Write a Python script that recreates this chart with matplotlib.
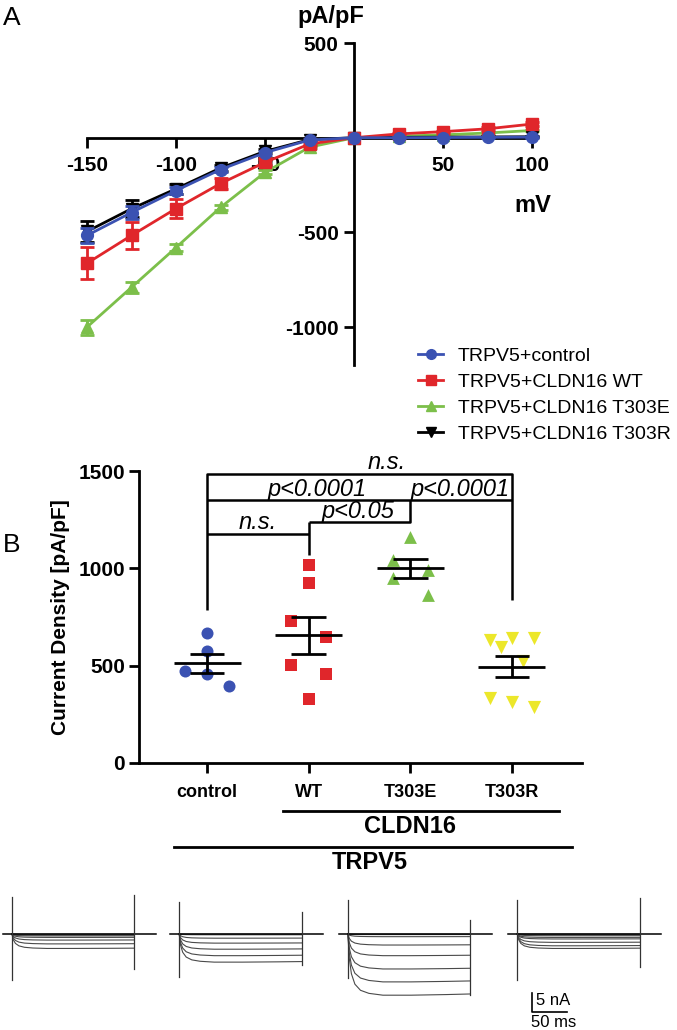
import numpy as np
import matplotlib.pyplot as plt
from matplotlib.lines import Line2D

plt.rcParams['font.family'] = ['Liberation Sans', 'DejaVu Sans']
plt.rcParams['axes.unicode_minus'] = False

# ---- Panel A: current-voltage curves
mv = [-150, -125, -100, -75, -50, -25, 0, 25, 50, 75, 100]
iv_control = [-516, -395, -279, -168, -79, -12, 0, 0, 1, 2, 3]
iv_wt = [-663, -516, -374, -242, -130, -33, 0, 20, 32, 47, 72]
iv_t303e = [-1000, -790, -580, -368, -183, -50, 0, 8, 15, 25, 38]
iv_t303r = [-495, -375, -270, -160, -72, -10, 0, 2, 3, 4, 5]
err_control = [40, 35, 20, 15, 10, 5, 0, 3, 3, 3, 3]
err_wt = [85, 70, 50, 30, 15, 8, 0, 5, 5, 8, 10]
err_t303e = [40, 30, 20, 15, 10, 5, 0, 3, 3, 5, 5]
err_t303r = [55, 45, 25, 15, 10, 5, 0, 3, 3, 3, 3]
iv_labels = ['TRPV5+control', 'TRPV5+CLDN16 WT', 'TRPV5+CLDN16 T303E', 'TRPV5+CLDN16 T303R']

# ---- Panel B: current density scatter
groups = ['control', 'WT', 'T303E', 'T303R']
cd_control = [667, 574, 472, 456, 395]
cd_wt = [1015, 923, 728, 646, 502, 456, 328]
cd_t303e = [1159, 1041, 990, 949, 862]
cd_t303r = [631, 595, 641, 641, 523, 333, 313, 287]
jit_control = [0, 0, -0.22, 0, 0.22]
jit_wt = [0, 0, -0.17, 0.17, -0.17, 0.17, 0]
jit_t303e = [0, -0.17, 0.17, -0.17, 0.17]
jit_t303r = [-0.22, -0.11, 0, 0.22, 0.11, -0.22, 0, 0.22]

# ---- Example traces (nA steady-state amplitudes per sweep)
amp_control = [0.05, 0.15, 0.3, 0.5, 0.9, 1.6, 2.6, 3.8]
amp_wt = [0.05, 0.2, 1.1, 2.4, 4.0, 5.7, 7.4]
amp_t303e = [0.05, 0.15, 0.7, 2.9, 5.7, 9.2, 12.6, 16.1]
amp_t303r = [0.05, 0.1, 0.2, 0.45, 0.9, 1.3, 2.2, 3.1, 3.8]
trace_t = [0, 2, 5, 10, 18, 30, 50, 90, 140, 175]
trace_shape = [0, 0.4, 0.65, 0.82, 0.92, 0.97, 1.0, 1.0, 0.99, 0.98]

blue = '#3b52b2'
red = '#e0262b'
green = '#7cbf4a'
yellow = '#ece72a'

fig = plt.figure(figsize=(6.77, 10.30), dpi=100)

# ================= Panel A =================
axA = fig.add_axes([87 / 677, 1 - 365 / 1030, 445 / 677, 322 / 1030])
series = [
    (iv_t303e, err_t303e, green, '^', 9, 2),
    (iv_t303r, err_t303r, 'black', 'v', 8, 3),
    (iv_wt, err_wt, red, 's', 8, 4),
    (iv_control, err_control, blue, 'o', 8.5, 5),
]
for vals, errs, col, mk, ms, z in series:
    axA.errorbar(mv, vals, yerr=errs, color=col, marker=mk, markersize=ms,
                 lw=2, elinewidth=2, capsize=5, capthick=2, zorder=z, clip_on=False)

axA.set_xlim(-150, 100)
axA.set_ylim(-1200, 500)
axA.spines['left'].set_position(('data', 0))
axA.spines['bottom'].set_position(('data', 0))
axA.spines['right'].set_visible(False)
axA.spines['top'].set_visible(False)
for s in ['left', 'bottom']:
    axA.spines[s].set_linewidth(2)
axA.set_xticks([-150, -100, -50, 50, 100])
axA.set_yticks([500, -500, -1000])
axA.tick_params(axis='both', direction='out', length=7, width=2, labelsize=15)
axA.tick_params(axis='x', pad=6)
axA.tick_params(axis='y', pad=4)
for lab in axA.get_xticklabels() + axA.get_yticklabels():
    lab.set_fontweight('bold')
axA.text(-13, 640, 'pA/pF', fontsize=17, fontweight='bold', ha='center', va='center')
axA.text(100.5, -358, 'mV', fontsize=17, fontweight='bold', ha='center', va='center')

handles = [
    Line2D([], [], color=blue, marker='o', markersize=7, lw=2),
    Line2D([], [], color=red, marker='s', markersize=6.5, lw=2),
    Line2D([], [], color=green, marker='^', markersize=7, lw=2),
    Line2D([], [], color='black', marker='v', markersize=7, lw=2),
]
fig.legend(handles, iv_labels, loc='upper left', bbox_to_anchor=(418 / 677, 1 - 347 / 1030),
           frameon=False, fontsize=14, handlelength=1.3, handletextpad=0.75,
           labelspacing=0.43, borderpad=0, borderaxespad=0)

fig.text(12 / 677, 1 - 18 / 1030, 'A', fontsize=19, ha='center', va='center')
fig.text(12 / 677, 1 - 545 / 1030, 'B', fontsize=19, ha='center', va='center')

# ================= Panel B =================
axB = fig.add_axes([139 / 677, 1 - 763 / 1030, 443 / 677, 292 / 1030])
data_b = [cd_control, cd_wt, cd_t303e, cd_t303r]
jits = [jit_control, jit_wt, jit_t303e, jit_t303r]
styles = [(blue, 'o', 75), (red, 's', 65), (green, '^', 85), (yellow, 'v', 90)]
for i, (vals, jit, (col, mk, sz)) in enumerate(zip(data_b, jits, styles)):
    x = i + 1 + np.array(jit)
    axB.scatter(x, vals, color=col, marker=mk, s=sz, linewidths=0, zorder=3, clip_on=False)
    v = np.array(vals, dtype=float)
    mean = v.mean()
    sem = v.std(ddof=1) / np.sqrt(len(v))
    axB.hlines(mean, i + 1 - 0.33, i + 1 + 0.33, color='black', lw=2, zorder=4)
    axB.hlines([mean - sem, mean + sem], i + 1 - 0.17, i + 1 + 0.17, color='black', lw=2, zorder=4)
    axB.vlines(i + 1, mean - sem, mean + sem, color='black', lw=2, zorder=4)

axB.set_xlim(0.33, 4.69)
axB.set_ylim(0, 1500)
axB.spines['right'].set_visible(False)
axB.spines['top'].set_visible(False)
for s in ['left', 'bottom']:
    axB.spines[s].set_linewidth(2)
axB.set_xticks([1, 2, 3, 4])
axB.set_xticklabels(groups, fontsize=13, fontweight='bold')
axB.set_yticks([0, 500, 1000, 1500])
axB.tick_params(axis='both', direction='out', length=7, width=2)
axB.tick_params(axis='y', labelsize=15, pad=3)
axB.tick_params(axis='x', pad=8)
for lab in axB.get_yticklabels():
    lab.set_fontweight('bold')
axB.set_ylabel('Current Density [pA/pF]', fontsize=15, fontweight='bold', labelpad=6)

# significance brackets
bk = dict(color='black', lw=1.8, clip_on=False, solid_capstyle='butt')
axB.plot([1, 1, 4, 4], [785, 1487, 1487, 836], **bk)
axB.plot([1, 4], [1349, 1349], **bk)
axB.plot([3, 3, 2], [1349, 1236, 1236], **bk)
axB.plot([2, 2], [1236, 1067], **bk)
axB.plot([1, 2], [1174, 1174], **bk)
sig = dict(fontsize=17, style='italic', ha='center', va='bottom')
axB.text(2.77, 1487, 'n.s.', **sig)
axB.text(2.08, 1346, 'p<0.0001', **sig)
axB.text(3.49, 1346, 'p<0.0001', **sig)
axB.text(2.49, 1233, 'p<0.05', **sig)
axB.text(1.5, 1176, 'n.s.', **sig)

# group bars under axis
tr = axB.get_xaxis_transform()
axB.plot([1.75, 4.46], [-0.164, -0.164], color='black', lw=2, transform=tr, clip_on=False)
axB.text(3.0, -0.218, 'CLDN16', fontsize=17, fontweight='bold', ha='center', va='center', transform=tr)
axB.plot([0.67, 4.59], [-0.288, -0.288], color='black', lw=2, transform=tr, clip_on=False)
axB.text(2.6, -0.342, 'TRPV5', fontsize=17, fontweight='bold', ha='center', va='center', transform=tr)

# ================= Example traces =================
axT = fig.add_axes([0, 0, 1, 140 / 1030])
axT.set_xlim(0, 677 / 0.7)
axT.set_ylim(-25.26, 11.58)
axT.axis('off')

pulse = 175
starts = [17, 256, 497, 739]
amps = [amp_control, amp_wt, amp_t303e, amp_t303r]
left_art = [(9.7, -12.1), (8.4, -11.3), (8.9, -11.6), (8.9, -12.1)]
right_art = [(10.3, -9.2), (5.8, -8.2), (3.7, -16.0), (9.5, -8.7)]
for t0, amp, la, ra in zip(starts, amps, left_art, right_art):
    tt = t0 + np.array(trace_t)
    for a in amp:
        axT.plot(tt, -a * np.array(trace_shape), color='#4a4a4a', lw=0.8)
    axT.plot([t0 - 13, t0 + pulse + 31], [0, 0], color='black', lw=1.1)
    axT.plot([t0, t0], [la[1], la[0]], color='#333333', lw=0.9)
    axT.plot([t0 + pulse, t0 + pulse], [ra[1], ra[0]], color='#333333', lw=0.9)

# scale bar: 5 nA / 50 ms
axT.plot([760, 760, 810], [-15.5, -20.5, -20.5], color='black', lw=1.2)
axT.text(766, -17.6, '5 nA', fontsize=12, ha='left', va='center')
axT.text(759, -23.4, '50 ms', fontsize=12, ha='left', va='center')

fig.savefig('out.png', dpi=100)
